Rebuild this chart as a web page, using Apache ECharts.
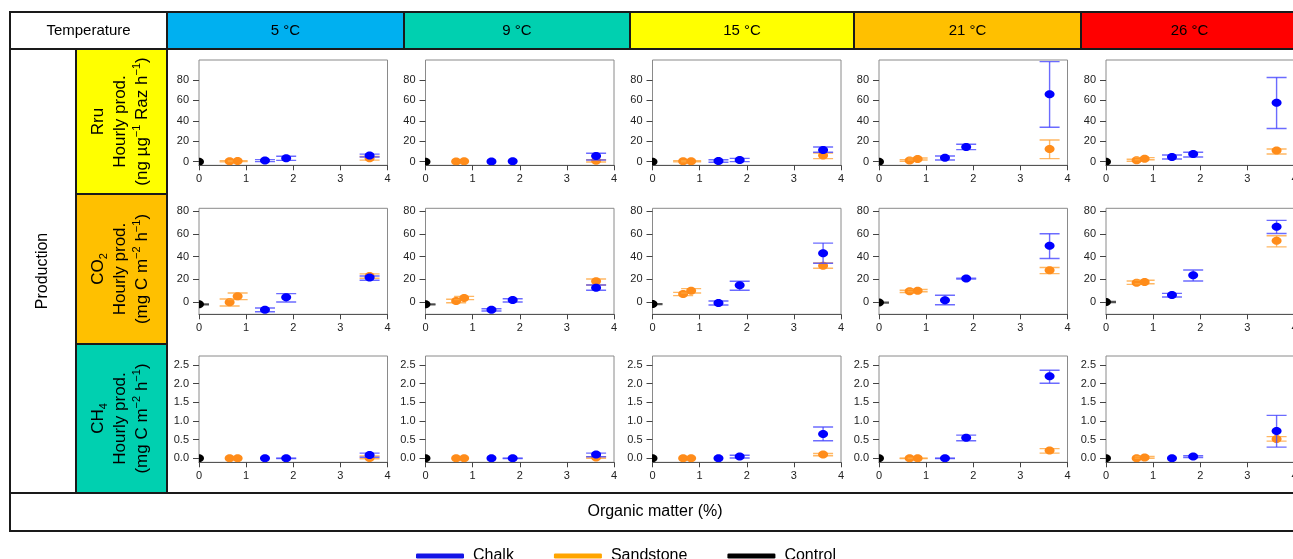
<!DOCTYPE html>
<html>
<head>
<meta charset="utf-8">
<script src="https://cdn.jsdelivr.net/npm/echarts@6/dist/echarts.min.js"></script>
<style>
html,body{margin:0;padding:0;background:#fff;}
#chart{width:1293px;height:559px;}
</style>
</head>
<body>
<div id="chart"></div>
<script>
// ---------- DATA ----------
const temperatures = ['5 °C', '9 °C', '15 °C', '21 °C', '26 °C'];
const temperatureColors = ['#00B0F0', '#00D0B0', '#FFFF00', '#FFC000', '#FF0000'];
const chalkOM = [1.4, 1.85, 3.62];
const sandstoneOM = [0.65, 0.82, 3.62];
const controlOM = [0];
const omTicks = [0, 1, 2, 3, 4];
const rruTicks = [0, 20, 40, 60, 80];
const co2Ticks = [0, 20, 40, 60, 80];
const ch4Ticks = [0, 0.5, 1.0, 1.5, 2.0, 2.5];

// each point: [mean, low, high]; one row per temperature
const rruChalk = [
  [[1.0, 0.0, 2.0], [3.3, 1.2, 5.2], [6.0, 4.6, 7.4]],
  [[0.2, 0.2, 0.2], [0.3, 0.3, 0.3], [5.5, 1.6, 8.2]],
  [[0.6, -0.6, 1.8], [1.6, 0.0, 3.2], [11.4, 9.2, 14.4]],
  [[3.9, 1.6, 5.5], [14.4, 11.8, 17.0], [66.0, 33.7, 98.0]],
  [[4.6, 2.6, 6.5], [7.5, 4.6, 9.2], [57.8, 32.4, 82.4]]
];
const rruSandstone = [
  [[0.3, -0.2, 0.8], [0.5, 0.0, 1.0], [3.3, 1.5, 5.0]],
  [[0.2, 0.2, 0.2], [0.3, 0.3, 0.3], [0.8, -0.3, 1.9]],
  [[0.3, -0.2, 0.8], [0.4, -0.1, 0.9], [5.9, 2.9, 8.5]],
  [[1.0, 0.2, 1.8], [2.6, 1.6, 3.6], [12.4, 2.9, 21.2]],
  [[1.3, 0.3, 2.3], [2.9, 1.9, 3.9], [10.8, 7.5, 12.4]]
];
const rruControl = [
  [[0.0, 0.0, 0.0]], [[0.0, 0.0, 0.0]], [[0.0, 0.0, 0.0]], [[0.0, 0.0, 0.0]], [[0.0, 0.0, 0.0]]
];
const co2Chalk = [
  [[-6.8, -8.5, -5.3], [4.1, 0.0, 7.4], [21.5, 19.1, 22.9]],
  [[-6.8, -7.9, -5.9], [1.8, 0.0, 2.9], [12.6, 10.3, 15.0]],
  [[-0.9, -2.6, 0.9], [14.7, 10.3, 18.2], [42.9, 34.1, 51.8]],
  [[1.5, -2.4, 5.9], [20.6, 20.2, 21.0], [49.4, 38.2, 60.0]],
  [[6.2, 4.4, 7.6], [23.5, 18.5, 28.2], [66.2, 60.3, 71.8]]
];
const co2Sandstone = [
  [[-0.3, -3.5, 2.6], [5.0, 2.1, 7.9], [22.9, 20.9, 24.7]],
  [[0.9, -0.6, 2.4], [3.5, 2.1, 5.0], [18.2, 15.0, 20.3]],
  [[7.1, 5.6, 8.5], [10.0, 7.9, 11.8], [31.8, 29.7, 34.4]],
  [[9.4, 8.4, 10.4], [10.0, 9.0, 11.0], [27.9, 25.0, 30.3]],
  [[17.0, 15.5, 18.5], [17.6, 16.1, 19.1], [53.8, 48.5, 58.2]]
];
const co2Control = [
  [[-2.0, -2.4, -1.6]], [[-2.0, -2.4, -1.6]], [[-1.8, -2.2, -1.4]], [[-0.5, -0.9, -0.1]], [[0.0, -0.4, 0.4]]
];
const ch4Chalk = [
  [[0.0, 0.0, 0.0], [0.0, -0.005, 0.005], [0.09, 0.03, 0.14]],
  [[0.0, 0.0, 0.0], [0.0, -0.005, 0.005], [0.10, 0.04, 0.14]],
  [[0.0, 0.0, 0.0], [0.045, 0.01, 0.08], [0.65, 0.47, 0.84]],
  [[0.0, -0.005, 0.005], [0.55, 0.47, 0.62], [2.20, 2.01, 2.36]],
  [[0.0, 0.0, 0.0], [0.045, 0.02, 0.07], [0.73, 0.30, 1.15]]
];
const ch4Sandstone = [
  [[0.0, 0.0, 0.0], [0.0, 0.0, 0.0], [0.01, -0.01, 0.06]],
  [[0.0, 0.0, 0.0], [0.0, 0.0, 0.0], [0.02, 0.0, 0.04]],
  [[0.0, 0.0, 0.0], [0.0, 0.0, 0.0], [0.10, 0.07, 0.13]],
  [[0.0, -0.005, 0.005], [0.0, -0.005, 0.005], [0.21, 0.14, 0.26]],
  [[0.0, 0.0, 0.0], [0.02, 0.0, 0.05], [0.52, 0.46, 0.58]]
];
const ch4Control = [
  [[0.0, 0.0, 0.0]], [[0.0, 0.0, 0.0]], [[0.0, 0.0, 0.0]], [[0.0, 0.0, 0.0]], [[0.0, 0.0, 0.0]]
];

// ---------- LAYOUT / STYLE ----------
const FONT = "'Liberation Sans', Arial, Helvetica, sans-serif";
const colLefts = [199, 425.5, 652.5, 879, 1106];
const plotWidth = 188.5;
const rowsCfg = [
  {top: 60, height: 105.3, min: -3.6, max: 99.6, ticks: rruTicks, dec: 0, chalk: rruChalk, sand: rruSandstone, ctrl: rruControl},
  {top: 208.3, height: 106, min: -10.8, max: 82.4, ticks: co2Ticks, dec: 0, chalk: co2Chalk, sand: co2Sandstone, ctrl: co2Control},
  {top: 356, height: 106.3, min: -0.107, max: 2.74, ticks: ch4Ticks, dec: 1, chalk: ch4Chalk, sand: ch4Sandstone, ctrl: ch4Control}
];
const materials = {
  Control:   {marker: '#000000', bar: 'rgba(60,60,60,0.85)', legend: '#000000'},
  Sandstone: {marker: '#FF8C1A', bar: 'rgba(255,165,60,0.8)', legend: '#FFA500'},
  Chalk:     {marker: '#0000FF', bar: 'rgba(70,70,255,0.8)', legend: '#1414E6'}
};

function renderFor(mat) {
  const m = materials[mat];
  return function (params, api) {
    const x = api.value(0), mean = api.value(1), lo = api.value(2), hi = api.value(3);
    const pm = api.coord([x, mean]);
    const children = [];
    if (hi > lo) {
      const p1 = api.coord([x, lo]);
      const p2 = api.coord([x, hi]);
      const st = {stroke: m.bar, lineWidth: 1.4};
      children.push({type: 'line', shape: {x1: p1[0], y1: p1[1], x2: p2[0], y2: p2[1]}, style: st});
      children.push({type: 'line', shape: {x1: p1[0] - 10, y1: p1[1], x2: p1[0] + 10, y2: p1[1]}, style: st});
      children.push({type: 'line', shape: {x1: p2[0] - 10, y1: p2[1], x2: p2[0] + 10, y2: p2[1]}, style: st});
    }
    children.push({type: 'ellipse', shape: {cx: pm[0], cy: pm[1], rx: 5, ry: 4}, style: {fill: m.marker}});
    return {type: 'group', children: children};
  };
}

const grids = [], xAxes = [], yAxes = [], series = [];
rowsCfg.forEach((row, r) => {
  colLefts.forEach((left, c) => {
    const idx = grids.length;
    grids.push({left: left, top: row.top, width: plotWidth, height: row.height,
      show: true, borderColor: '#8a8a8a', borderWidth: 1, backgroundColor: 'transparent',
      containLabel: false, outerBoundsMode: 'none'});
    xAxes.push({type: 'value', gridIndex: idx, min: 0, max: 4, interval: 1,
      axisLine: {show: true, onZero: false, lineStyle: {color: '#555', width: 1}},
      axisTick: {show: true, length: 5, lineStyle: {color: '#444'}},
      axisLabel: {show: true, margin: 8, fontSize: 11, color: '#222', fontFamily: FONT},
      splitLine: {show: false}});
    yAxes.push({type: 'value', gridIndex: idx, min: row.min, max: row.max,
      axisLine: {show: false, onZero: false},
      axisTick: {show: true, length: 6, customValues: row.ticks, lineStyle: {color: '#444'}},
      axisLabel: {show: true, margin: 10, fontSize: 11, color: '#222', fontFamily: FONT,
        customValues: row.ticks, formatter: v => Number(v).toFixed(row.dec)},
      splitLine: {show: false}});
    const groups = [
      ['Control', controlOM, row.ctrl[c]],
      ['Sandstone', sandstoneOM, row.sand[c]],
      ['Chalk', chalkOM, row.chalk[c]]
    ];
    groups.forEach(([name, om, pts]) => {
      series.push({
        type: 'custom', name: name, xAxisIndex: idx, yAxisIndex: idx, clip: true,
        itemStyle: {color: materials[name].legend},
        renderItem: renderFor(name),
        encode: {x: 0, y: 1},
        data: pts.map((p, i) => [om[i], p[0], p[1], p[2]]),
        silent: true
      });
    });
  });
});

// ---------- TABLE (graphic) ----------
const LINE = '#1a1a1a';
const LW = 2;
const RIGHT = 1298;
const graphic = [];
function cell(x, y, w, h, fill) {
  graphic.push({type: 'rect', shape: {x: x, y: y, width: w, height: h},
    style: {fill: fill || 'none', stroke: LINE, lineWidth: LW}, z: -10, silent: true});
}
function label(x, y, text, size, rot) {
  graphic.push({type: 'text', x: x, y: y, rotation: rot || 0, z: 5, silent: true,
    style: {text: text, fill: '#000', fontSize: size, fontFamily: FONT, align: 'center', verticalAlign: 'middle'}});
}
// header
cell(10, 12, 157, 37, '#ffffff');
label(88.5, 30.5, 'Temperature', 15);
const hdrX = [167, 404, 630, 854, 1081, RIGHT];
temperatures.forEach((t, i) => {
  cell(hdrX[i], 12, hdrX[i + 1] - hdrX[i], 37, temperatureColors[i]);
  label((hdrX[i] + hdrX[i + 1]) / 2, 30.5, t, 15);
});
// body
cell(10, 49, 66, 444, '#ffffff');
label(43, 271, 'Production', 16, Math.PI / 2);
cell(167, 49, RIGHT - 167, 444);
const rowLabelCells = [[49, 145, '#FFFF00'], [194, 150, '#FFC000'], [344, 149, '#00D0B0']];
rowLabelCells.forEach(([y, h, f]) => cell(76, y, 91, h, f));
const rich = {
  n: {fontSize: 17, lineHeight: 22, fontFamily: FONT, fill: '#000'},
  sup: {fontSize: 11, lineHeight: 11, verticalAlign: 'top', fontFamily: FONT, fill: '#000'},
  sub: {fontSize: 11, lineHeight: 11, verticalAlign: 'bottom', fontFamily: FONT, fill: '#000'}
};
const rowLabelTexts = [
  '{n|Rru}\n{n|Hourly prod.}\n{n|(ng µg}{sup|−1}{n| Raz h}{sup|−1}{n|)}',
  '{n|CO}{sub|2}\n{n|Hourly prod.}\n{n|(mg C m}{sup|−2}{n| h}{sup|−1}{n|)}',
  '{n|CH}{sub|4}\n{n|Hourly prod.}\n{n|(mg C m}{sup|−2}{n| h}{sup|−1}{n|)}'
];
rowLabelCells.forEach(([y, h], i) => {
  graphic.push({type: 'text', x: 120.5, y: y + h / 2, rotation: Math.PI / 2, z: 5, silent: true,
    style: {text: rowLabelTexts[i], rich: rich, fill: '#000', align: 'center', verticalAlign: 'middle', fontFamily: FONT}});
});
// bottom row
cell(10, 493, RIGHT - 10, 38, '#ffffff');
label(655, 512, 'Organic matter (%)', 16);

const option = {
  animation: false,
  backgroundColor: '#ffffff',
  grid: grids,
  xAxis: xAxes,
  yAxis: yAxes,
  series: series,
  graphic: graphic,
  legend: {
    left: 411, top: 543, orient: 'horizontal', selectedMode: false,
    itemWidth: 48, itemHeight: 5, itemGap: 40, icon: 'roundRect',
    itemStyle: {borderWidth: 0},
    textStyle: {fontSize: 16, color: '#000', fontFamily: FONT, padding: [0, 0, 0, 4]},
    data: ['Chalk', 'Sandstone', 'Control'].map(n => ({name: n, icon: 'roundRect', itemStyle: {color: materials[n].legend}}))
  }
};
const chart = echarts.init(document.getElementById('chart'), null, {renderer: 'canvas'});
chart.setOption(option);
</script>
</body>
</html>
